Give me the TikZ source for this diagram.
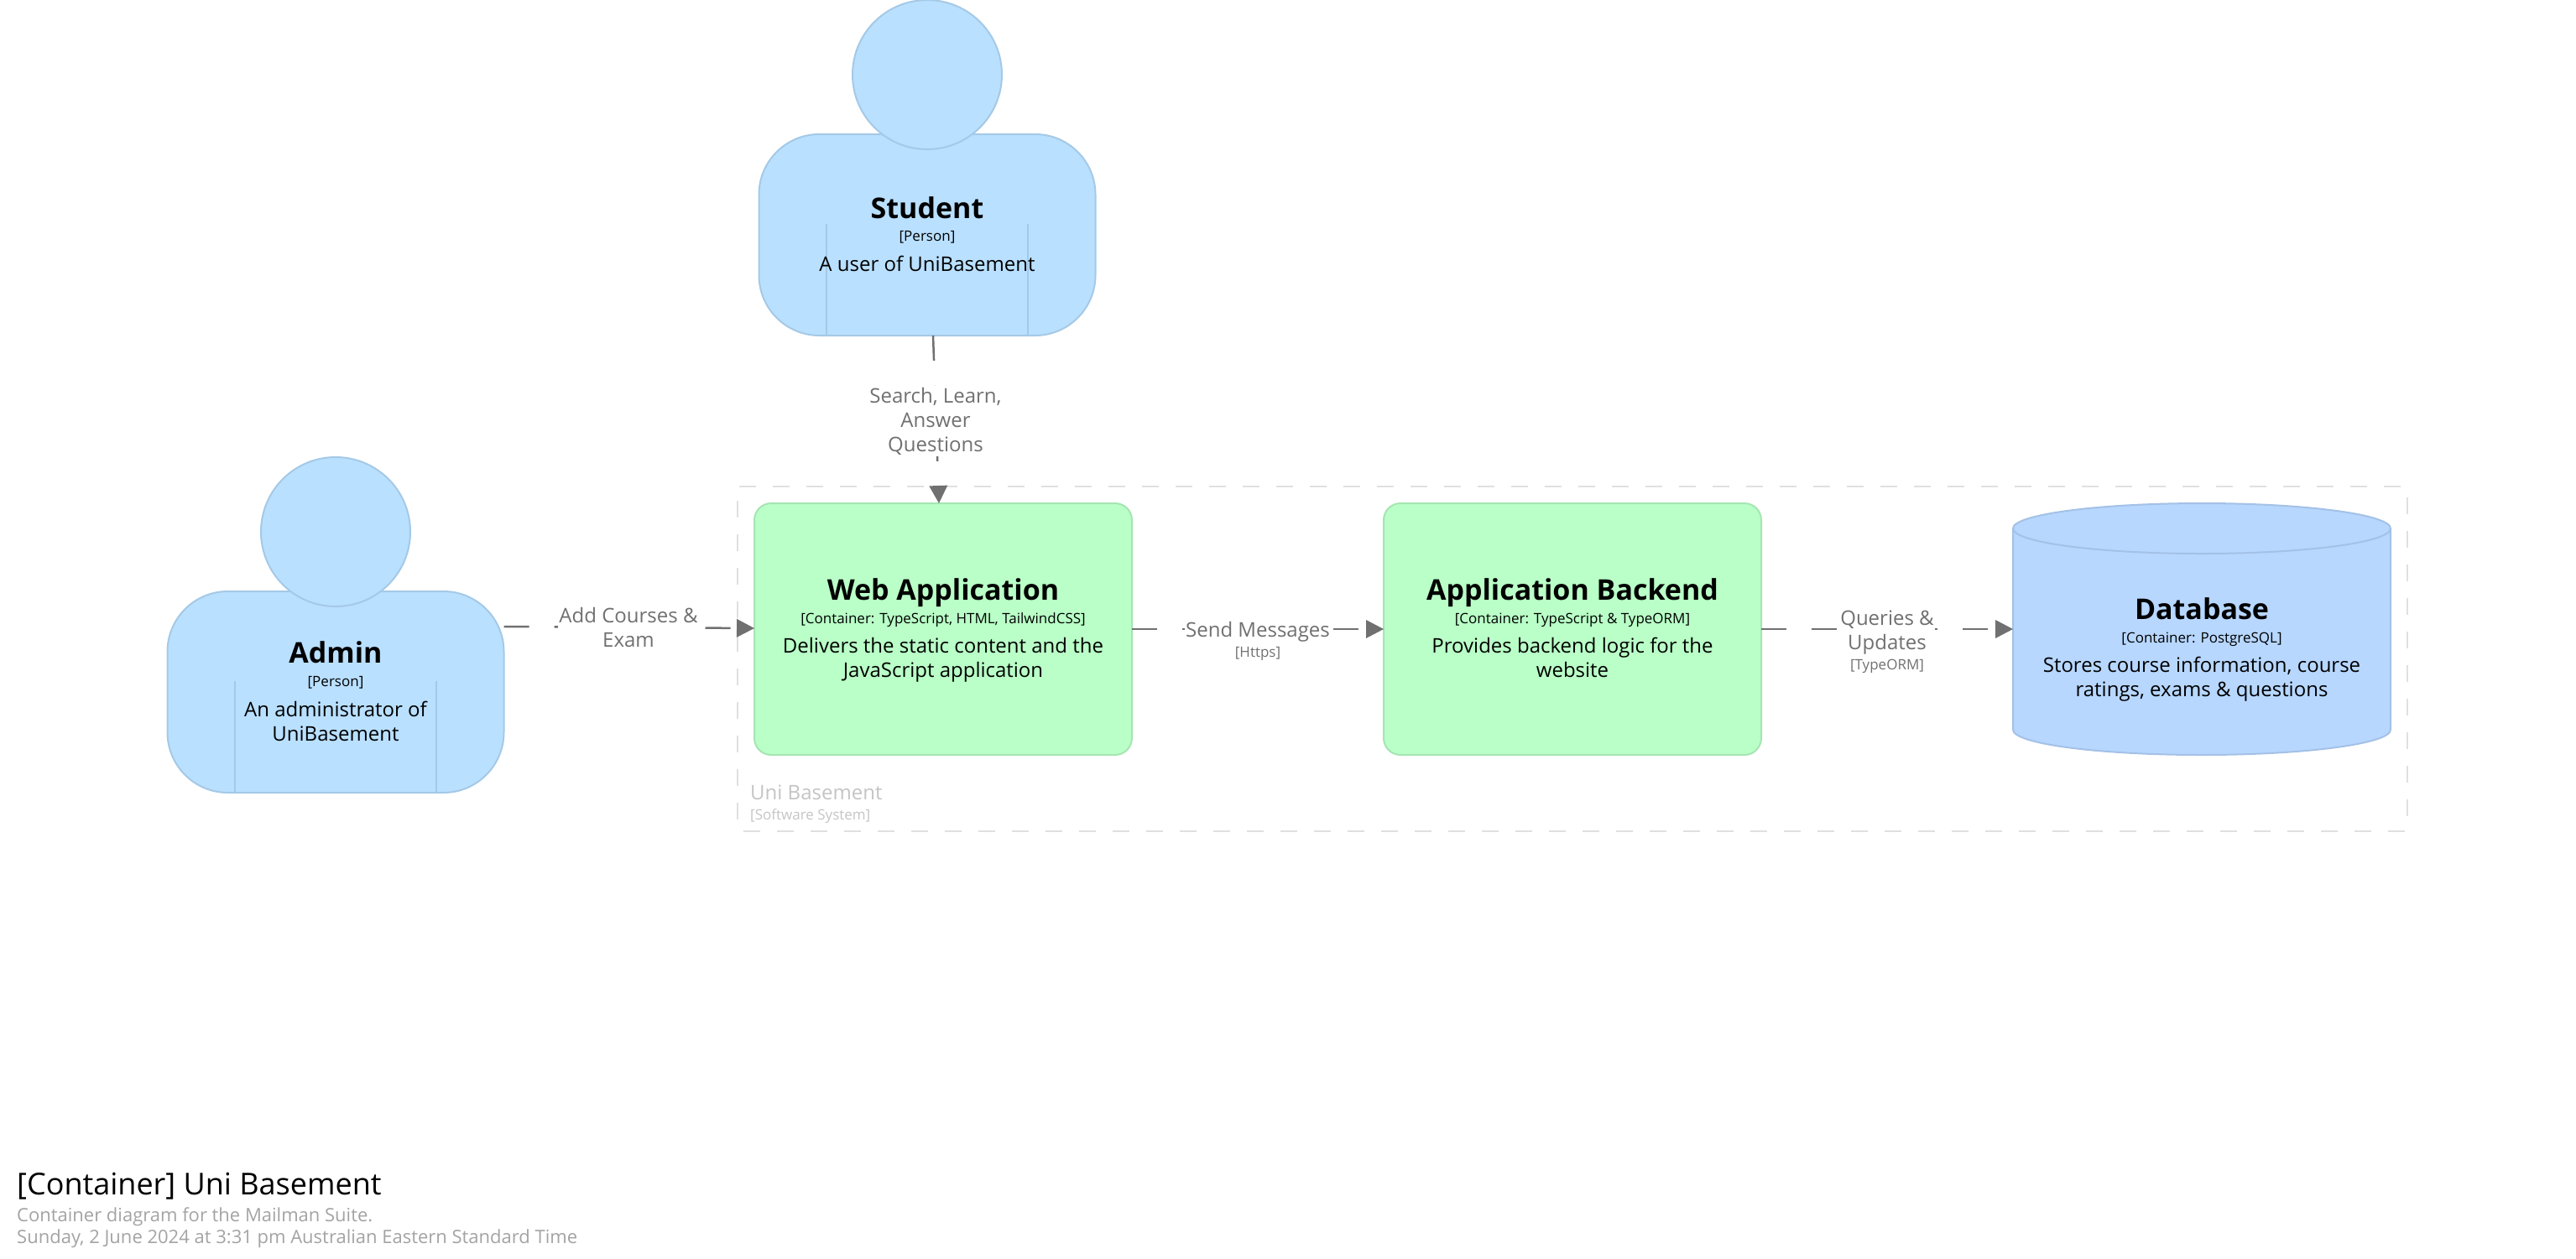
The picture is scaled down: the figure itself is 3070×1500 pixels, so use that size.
\documentclass[tikz,border=0pt]{standalone}
\usepackage{fontspec}
\setmainfont{Open Sans}
\usetikzlibrary{arrows.meta}
\definecolor{personblue}{HTML}{B9E0FF}
\definecolor{personedge}{HTML}{A5C9E6}
\definecolor{webgreen}{HTML}{B9FFC7}
\definecolor{webedge}{HTML}{A6E5B3}
\definecolor{dbblue}{HTML}{B7D7FF}
\definecolor{dbedge}{HTML}{A4C1E6}
\definecolor{relgrey}{HTML}{707070}
\definecolor{groupgrey}{HTML}{E0E0E0}
\definecolor{grouptext}{HTML}{C4C4C4}
\definecolor{subtext}{HTML}{A3A3A3}
\tikzset{
  personbody/.style={draw=personedge,fill=personblue,line width=2pt,rounded corners=72pt,
    minimum width=401pt,minimum height=240pt,inner sep=0pt,outer sep=0pt},
  personhead/.style={circle,draw=personedge,fill=personblue,line width=2pt,
    minimum size=178pt,inner sep=0pt,outer sep=0pt},
  personline/.style={draw=personedge,line width=2pt},
  container/.style={draw=webedge,fill=webgreen,line width=2pt,rounded corners=20pt,
    minimum width=450pt,minimum height=300pt,inner sep=0pt,outer sep=0pt},
  nametext/.style={anchor=base,inner sep=0pt,font=\fontsize{34}{41}\selectfont\bfseries},
  metatext/.style={anchor=base,inner sep=0pt,font=\fontsize{17}{21}\selectfont},
  desctext/.style={anchor=base,inner sep=0pt,font=\fontsize{24}{28.5}\selectfont,align=center},
  rel/.style={draw=relgrey,line width=2.5pt,line cap=butt,dash pattern=on 30pt off 30pt,
    -{Triangle[length=21pt,width=22pt,line width=0pt,fill=relgrey]}},
  rellabel/.style={fill=white,inner xsep=1pt,inner ysep=2pt,text=relgrey,align=center,
    font=\fontsize{24}{29}\selectfont},
  relmeta/.style={inner sep=0pt,text=relgrey,font=\fontsize{17}{21}\selectfont},
}
\begin{document}
\begin{tikzpicture}[x=1pt,y=-1pt]
  \useasboundingbox (0,0) rectangle (3070,1500);

  % Group boundary
  \draw[groupgrey,line width=2pt,dash pattern=on 20pt off 20pt,rounded corners=2pt]
    (879,580) -- (2869,580) -- (2869,991) -- (879,991) -- cycle;
  \node[anchor=base west,inner sep=0pt,text=grouptext,font=\fontsize{24}{29}\selectfont] (grouplabel) at (894,953) {Uni Basement};
  \node[anchor=base west,inner sep=0pt,text=grouptext,font=\fontsize{17}{21}\selectfont] (groupmeta) at (894,977) {[Software System]};

  % People
  \node[personbody] (student) at (1105,280) {};
  \node[personhead] (studenthead) at (1105,89) {};
  \node[personbody] (admin) at (400,825) {};
  \node[personhead] (adminhead) at (400,634) {};
  \foreach \side in {-120,120} {
    \draw[personline] ([xshift=\side pt]student.south) -- +(0,-133);
    \draw[personline] ([xshift=\side pt]admin.south) -- +(0,-133);
  }

  % Containers
  \node[container] (web) at (1124,750) {};
  \node[container] (backend) at (1874,750) {};

  % Database
  \node[inner sep=0pt,outer sep=0pt,minimum width=450pt,minimum height=300pt] (db) at (2624,750) {};
  \draw[draw=dbedge,fill=dbblue,line width=2pt]
    (db.west |- 0,630) arc[start angle=180,end angle=360,x radius=225,y radius=30]
    -- (db.east |- 0,870) arc[start angle=0,end angle=180,x radius=225,y radius=30] -- cycle;
  \draw[draw=dbedge,line width=2pt]
    (db.west |- 0,630) arc[start angle=180,end angle=0,x radius=225,y radius=30];

  % Connectors
  \draw[rel] ([xshift=7pt]student.south) -- ([xshift=-5pt]web.north);
  \draw[rel] ([yshift=78pt]admin.east) -- ([yshift=1pt]web.west);
  \draw[rel] (web.east) -- (backend.west);
  \draw[rel] (backend.east) -- (db.west);

  % Labels
  \node[nametext] (studentname) at (1105,260) {Student};
  \node[metatext] (studentmeta) at (1105,287) {[Person]};
  \node[desctext] (studentdesc) at (1105,323) {A user of UniBasement};

  \node[nametext] (adminname) at (400,790) {Admin};
  \node[metatext] (adminmeta) at (400,818) {[Person]};
  \node[desctext] (admindesc) at (400,883) {An administrator of\\UniBasement};

  \node[nametext] (webname) at (1124,715) {Web Application};
  \node[metatext] (webmeta) at (1124,743) {[Container: TypeScript, HTML, TailwindCSS]};
  \node[desctext] (webdesc) at (1124,807) {Delivers the static content and the\\JavaScript application};

  \node[nametext] (backendname) at (1874,715) {Application Backend};
  \node[metatext] (backendmeta) at (1874,743) {[Container: TypeScript \& TypeORM]};
  \node[desctext] (backenddesc) at (1874,807) {Provides backend logic for the\\website};

  \node[nametext] (dbname) at (2624,738) {Database};
  \node[metatext] (dbmeta) at (2624,766) {[Container: PostgreSQL]};
  \node[desctext] (dbdesc) at (2624,830) {Stores course information, course\\ratings, exams \& questions};

  \node[rellabel] (studentrel) at (1115,502) {Search, Learn,\\Answer\\Questions};
  \node[rellabel] (adminrel) at (749,748) {Add Courses \&\\Exam};
  \node[rellabel] (webrel) at (1499,753) {Send Messages};
  \node[relmeta] (webrelmeta) at (1499,779) {[Https]};
  \node[rellabel] (backendrel) at (2249,754) {Queries \&\\Updates};
  \node[relmeta] (backendrelmeta) at (2249,794) {[TypeORM]};

  % Title block
  \node[anchor=base west,inner sep=0pt,font=\fontsize{36}{43}\selectfont] (title) at (20,1424) {[Container] Uni Basement};
  \node[anchor=base west,inner sep=0pt,text=subtext,font=\fontsize{22}{27}\selectfont] (subtitle) at (20,1456) {Container diagram for the Mailman Suite.};
  \node[anchor=base west,inner sep=0pt,text=subtext,font=\fontsize{22}{27}\selectfont] (datestamp) at (20,1482) {Sunday, 2 June 2024 at 3:31 pm Australian Eastern Standard Time};
\end{tikzpicture}
\end{document}
